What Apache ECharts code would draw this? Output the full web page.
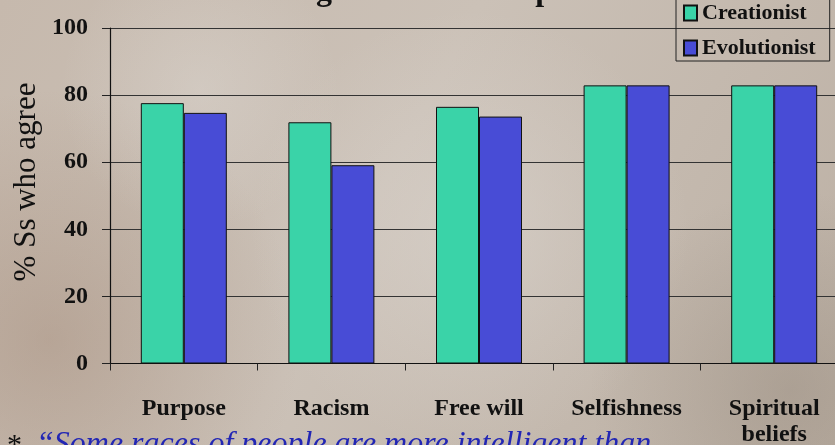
<!DOCTYPE html>
<html>
<head>
<meta charset="utf-8">
<script src="https://cdn.jsdelivr.net/npm/echarts@6/dist/echarts.min.js"></script>
<style>
  html, body { margin: 0; padding: 0; }
  #chart { width: 835px; height: 445px; }
</style>
</head>
<body>
<div id="chart"></div>
<script>
// Categories and percentages of participants who agree, by group
const categories = ['Purpose', 'Racism', 'Free will', 'Selfishness', 'Spiritual\nbeliefs'];
const creationist = [77.6, 71.9, 76.5, 82.9, 82.9];
const evolutionist = [74.7, 59.1, 73.6, 82.9, 82.9];
const seriesNames = ['Creationist', 'Evolutionist'];
const yTicks = { min: 0, max: 100, interval: 20 };

const titleText = 'Views seen as negative effects of position';
const footText = '\u201CSome races of people are more intelligent than';

const SERIF = "'Times New Roman', 'Liberation Serif', 'DejaVu Serif', serif";
const GREEN = '#3ad3a8';
const BLUE = '#484cd6';

const chart = echarts.init(document.getElementById('chart'), null, { renderer: 'canvas' });

function haze(cx, cy, r, rgb, a) {
  return {
    type: 'circle', z: -10, silent: true,
    shape: { cx: cx, cy: cy, r: r },
    style: {
      fill: {
        type: 'radial', x: 0.5, y: 0.5, r: 0.5,
        colorStops: [
          { offset: 0, color: 'rgba(' + rgb + ',' + a + ')' },
          { offset: 1, color: 'rgba(' + rgb + ',0)' }
        ]
      }
    }
  };
}

chart.setOption({
  backgroundColor: {
    type: 'linear', x: 0, y: 0, x2: 1, y2: 1,
    colorStops: [
      { offset: 0, color: '#c6b9ad' },
      { offset: 0.45, color: '#cbc1b7' },
      { offset: 1, color: '#bcb0a4' }
    ]
  },
  animation: false,
  graphic: [
    // soft mottling of the stone backdrop
    haze(50, 340, 250, '150,120,100', 0.35),
    haze(470, 230, 220, '225,220,215', 0.45),
    haze(200, 90, 140, '230,228,225', 0.3),
    haze(790, 390, 200, '130,118,105', 0.3),
    // chart title, running off the top edge
    {
      type: 'text', z: 10,
      x: 368, y: 8,
      style: {
        text: titleText,
        font: 'bold 32px ' + SERIF,
        fill: '#111',
        align: 'center',
        verticalAlign: 'bottom'
      }
    },
    // y axis name
    {
      type: 'text', z: 10,
      x: 27, y: 182,
      rotation: Math.PI / 2,
      style: {
        text: '% Ss who agree',
        font: '31px ' + SERIF,
        fill: '#111',
        align: 'center',
        verticalAlign: 'middle'
      }
    },
    // footnote quote, running off the bottom edge
    {
      type: 'text', z: 10,
      x: 7, y: 431,
      style: { text: '*', font: '30px ' + SERIF, fill: '#111', verticalAlign: 'top' }
    },
    {
      type: 'text', z: 10,
      x: 36, y: 429,
      style: { text: footText, font: 'italic 32px ' + SERIF, fill: '#2226b4', verticalAlign: 'top' }
    }
  ],
  legend: {
    data: seriesNames,
    orient: 'vertical',
    left: 676,
    top: -8,
    padding: [10, 14, 2, 7],
    itemGap: 13,
    itemWidth: 13,
    itemHeight: 15,
    icon: 'rect',
    borderColor: '#222',
    borderWidth: 1,
    textStyle: { fontFamily: SERIF, fontWeight: 'bold', fontSize: 22, color: '#111' }
  },
  grid: {
    left: 110,
    top: 28,
    width: 738,
    height: 335.5,
    containLabel: false,
    outerBoundsMode: 'none'
  },
  xAxis: {
    type: 'category',
    data: categories,
    axisLine: { lineStyle: { color: '#111', width: 1.2 } },
    axisTick: { show: true, length: 7, inside: false, lineStyle: { color: '#222' } },
    axisLabel: {
      margin: 32,
      interval: 0,
      fontFamily: SERIF,
      fontWeight: 'bold',
      fontSize: 24,
      lineHeight: 26,
      color: '#111'
    }
  },
  yAxis: {
    type: 'value',
    min: yTicks.min,
    max: yTicks.max,
    interval: yTicks.interval,
    axisLine: { show: true, lineStyle: { color: '#111', width: 1.2 } },
    axisTick: { show: true, length: 8, lineStyle: { color: '#222' } },
    splitLine: { show: true, lineStyle: { color: '#333', width: 1 } },
    axisLabel: {
      margin: 22,
      fontFamily: SERIF,
      fontWeight: 'bold',
      fontSize: 24,
      color: '#111'
    }
  },
  series: [
    {
      name: seriesNames[0],
      type: 'bar',
      data: creationist,
      barWidth: 43,
      barGap: '0%',
      itemStyle: { color: GREEN, borderColor: '#111', borderWidth: 1 }
    },
    {
      name: seriesNames[1],
      type: 'bar',
      data: evolutionist,
      barWidth: 43,
      barGap: '0%',
      itemStyle: { color: BLUE, borderColor: '#111', borderWidth: 1 }
    }
  ]
});
</script>
</body>
</html>
